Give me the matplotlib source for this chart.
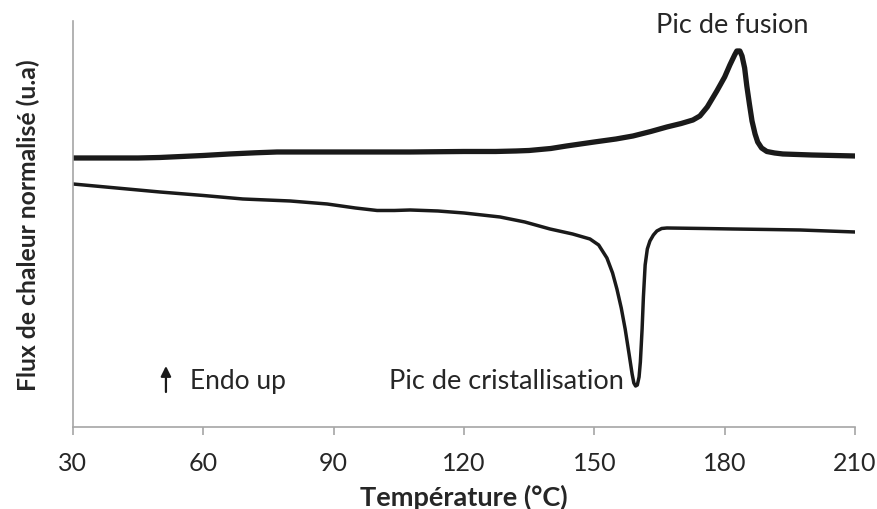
import matplotlib
matplotlib.use('agg')
import matplotlib.pyplot as plt

plt.rcParams['font.family'] = ['Lato', 'DejaVu Sans']

# temperature (°C) and normalised heat flow (arbitrary units)
t_heat = [30, 45, 50, 55, 60, 66, 72, 77, 90, 107.6, 120, 127.3, 132, 135, 140, 143.6, 150,
          155, 158.9, 163, 166.7, 170, 172.7, 174.3, 176, 178.2, 180, 181.2, 182.3, 182.8,
          183.5, 184, 184.6, 185.1, 185.7, 186.3, 187, 187.6, 188.5, 189.7, 191.5, 193.4,
          200, 210]
flux_heat = [26.9, 26.9, 26.95, 27.05, 27.15, 27.3, 27.42, 27.5, 27.5, 27.5, 27.55, 27.55,
             27.6, 27.65, 27.85, 28.1, 28.5, 28.8, 29.1, 29.55, 30.0, 30.35, 30.7, 31.1,
             32.0, 33.6, 35.0, 36.2, 37.2, 37.6, 37.6, 37.1, 35.9, 34.1, 32.3, 30.6, 29.3,
             28.5, 27.9, 27.55, 27.4, 27.3, 27.2, 27.1]

t_cool = [30, 40, 50, 60, 69.1, 80, 88.5, 95, 100, 104, 107.6, 114, 120, 128.3, 134, 139.8,
          145, 149, 151, 152.9, 154.2, 155.2, 156.2, 157.1, 158, 158.7, 159.1, 159.5, 159.9,
          160.3, 160.6, 161, 161.3, 161.7, 162.2, 162.8, 163.6, 164.4, 165.5, 166.7, 175,
          181.9, 190, 197.4, 210]
flux_cool = [24.3, 23.9, 23.5, 23.15, 22.8, 22.6, 22.3, 21.9, 21.65, 21.65, 21.7, 21.6,
             21.4, 21.0, 20.5, 19.8, 19.3, 18.8, 18.2, 16.9, 15.4, 13.8, 11.9, 9.8, 7.3,
             5.3, 4.4, 4.1, 4.2, 5.0, 6.5, 9.8, 13.0, 16.2, 17.8, 18.6, 19.2, 19.6, 19.85,
             19.9, 19.85, 19.8, 19.75, 19.7, 19.5]

xticks = [30, 60, 90, 120, 150, 180, 210]
ink = '#262626'

fig = plt.figure(figsize=(8.77, 5.10), dpi=100)
ax = fig.add_axes([0.0832, 0.1608, 0.8917, 0.7961])

ax.plot(t_heat, flux_heat, color='#1a1a1a', lw=3.8, solid_joinstyle='round', solid_capstyle='round')
ax.plot(t_cool, flux_cool, color='#1a1a1a', lw=2.5, solid_joinstyle='round', solid_capstyle='round')

ax.set_xlim(30, 210)
ax.set_ylim(0, 40.6)
ax.set_xticks(xticks)
ax.set_yticks([])
ax.tick_params(axis='x', direction='out', length=6, width=1.2, color='#a6a6a6',
               labelsize=18, labelcolor=ink, pad=11)
for s in ['top', 'right']:
    ax.spines[s].set_visible(False)
for s in ['left', 'bottom']:
    ax.spines[s].set_color('#a6a6a6')
    ax.spines[s].set_linewidth(1.2)

ax.set_xlabel('Température (°C)', fontsize=19.5, fontweight='bold', color=ink, labelpad=7)
ax.set_ylabel('Flux de chaleur normalisé (u.a)', fontsize=17.8, fontweight='bold', color=ink, labelpad=24)

ax.text(181.7, 40.2, 'Pic de fusion', fontsize=19.5, ha='center', va='center', color=ink)
ax.text(156.8, 4.6, 'Pic de cristallisation', fontsize=19.5, ha='right', va='center', color=ink)
ax.text(57.0, 4.6, 'Endo up', fontsize=19, ha='left', va='center', color=ink)
ax.annotate('', xy=(51.4, 6.1), xytext=(51.4, 3.5),
            arrowprops=dict(arrowstyle='-|>', color='#1a1a1a', lw=1.6, mutation_scale=15,
                            shrinkA=0, shrinkB=0))

fig.savefig('out.png', dpi=100)
